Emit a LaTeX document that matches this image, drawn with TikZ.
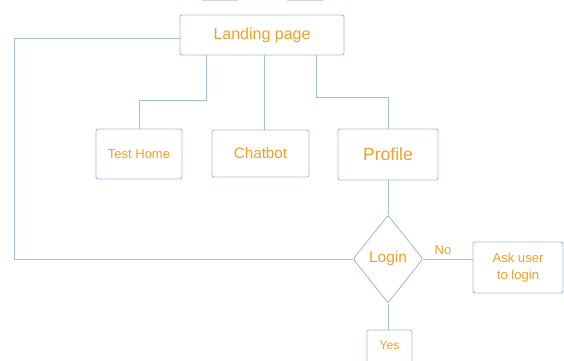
\documentclass[tikz,border=0pt]{standalone}
\usepackage{fontspec}
\setmainfont{Liberation Sans}
\usetikzlibrary{shapes.geometric,calc}
\definecolor{edgeblue}{RGB}{165,187,218}
\definecolor{labelorange}{RGB}{240,160,40}
\definecolor{faintgray}{RGB}{205,210,220}
\begin{document}
\begin{tikzpicture}[x=1pt,y=-1pt,
  box/.style={draw=edgeblue, line width=0.9pt, rounded corners=2pt, inner sep=0pt,
              text=labelorange, align=center},
  decision/.style={diamond, draw=edgeblue, line width=0.9pt, rounded corners=2pt,
                   inner sep=0pt, text=labelorange},
  link/.style={draw=edgeblue, line width=0.9pt},
]
\useasboundingbox (0,0) rectangle (564,360);

% partial boxes cut off at the top edge
\draw[faintgray, line width=0.8pt] (202,0.8) -- (238,0.8);
\draw[faintgray, line width=0.8pt] (287,0.8) -- (323,0.8);

% nodes
\node[box, minimum width=164, minimum height=40, font=\fontsize{16}{19}\selectfont] (land) at (262,35) {Landing page};
\node[box, minimum width=86, minimum height=50, font=\fontsize{13}{16}\selectfont] (th) at (139,154) {Test Home};
\node[box, minimum width=97, minimum height=47, font=\fontsize{15.2}{18}\selectfont] (cb) at (260.5,153.5) {Chatbot};
\node[box, minimum width=100, minimum height=51, font=\fontsize{17.6}{21}\selectfont] (pr) at (388,154.5) {Profile};
\node[decision, minimum width=70, minimum height=88, font=\fontsize{15.4}{18}\selectfont] (lg) at (388,259) {Login};
\node[box, minimum width=90, minimum height=51, font=\fontsize{13.1}{17}\selectfont] (ask) at (518,267.5) {Ask user\\to login};
\node[box, minimum width=45, minimum height=40, text depth=9pt, font=\fontsize{12.2}{15}\selectfont] (yes) at (389.5,350) {Yes};
\node[text=labelorange, inner sep=0pt, font=\fontsize{13}{16}\selectfont] (no) at (443,250) {No};

% connectors
\draw[link] (land.south west) ++(27,0) -- ++(0,45) -| (th.north);
\coordinate (c2) at ($(land.south west)+(85,0)$);
\draw[link] (c2) -- (c2 |- cb.north);
\draw[link] (land.south west) ++(137,0) -- ++(0,42) -| (pr.north);
\draw[link] (pr.south) -- (lg.north);
\draw[link] (lg.east) -- (lg.east -| ask.west);
\draw[link] (lg.south) -- (lg.south |- yes.north);
\coordinate (loop) at (14,38);
\draw[link] (lg.west) -| (loop) -- (loop -| land.west);
\end{tikzpicture}
\end{document}
